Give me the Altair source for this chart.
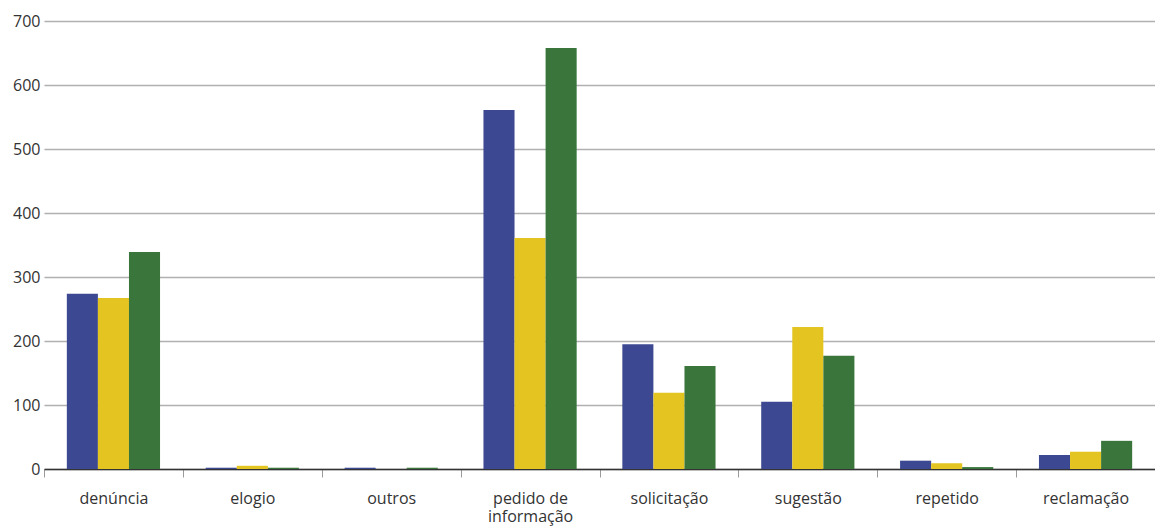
import altair as alt
import pandas as pd

categories = ["denúncia", "elogio", "outros", "pedido de informação", "solicitação", "sugestão", "repetido", "reclamação"]
series = ["Série 1", "Série 2", "Série 3"]
serie1 = [274, 2, 2, 561, 195, 105, 13, 22]
serie2 = [267, 5, 0, 361, 119, 222, 9, 27]
serie3 = [339, 2, 2, 658, 161, 177, 3, 44]
colors = ["#3C4891", "#E4C421", "#3A763B"]

rows = []
for s, vals in zip(series, [serie1, serie2, serie3]):
    for c, v in zip(categories, vals):
        rows.append({"categoria": c, "serie": s, "valor": v})
df = pd.DataFrame(rows)

FONT = "Open Sans"

bars = alt.Chart(df).mark_bar().encode(
    x=alt.X("categoria:N", sort=categories, title=None,
            scale=alt.Scale(paddingInner=0, paddingOuter=0),
            axis=alt.Axis(labelAngle=0, tickBand="extent", tickColor="#9a9a9a", tickSize=8,
                          tickWidth=1, domainColor="#333333", domainWidth=1.5,
                          labelFontSize=16, labelColor="#333333", labelFont=FONT,
                          labelPadding=13, labelLineHeight=18,
                          labelExpr="datum.label == 'pedido de informação' ? ['pedido de', 'informação'] : datum.label")),
    xOffset=alt.XOffset("serie:N", sort=series,
                        scale=alt.Scale(paddingInner=0, paddingOuter=0.735)),
    y=alt.Y("valor:Q", title=None,
            scale=alt.Scale(domain=[0, 700], nice=False),
            axis=alt.Axis(values=[0, 100, 200, 300, 400, 500, 600, 700], domain=False, ticks=False,
                          gridColor="#b0b0b0", gridWidth=1.5, labelFontSize=16,
                          labelColor="#333333", labelFont=FONT, labelPadding=4)),
    color=alt.Color("serie:N", sort=series, scale=alt.Scale(domain=series, range=colors), legend=None),
)

chart = bars.properties(
    width=1111, height=448,
    autosize=alt.AutoSizeParams(type="none"),
    padding={"left": 36, "top": 13, "right": 0, "bottom": 57},
).configure_view(stroke=None)

chart.save("out.html", embed_options={"renderer": "svg", "actions": False})
